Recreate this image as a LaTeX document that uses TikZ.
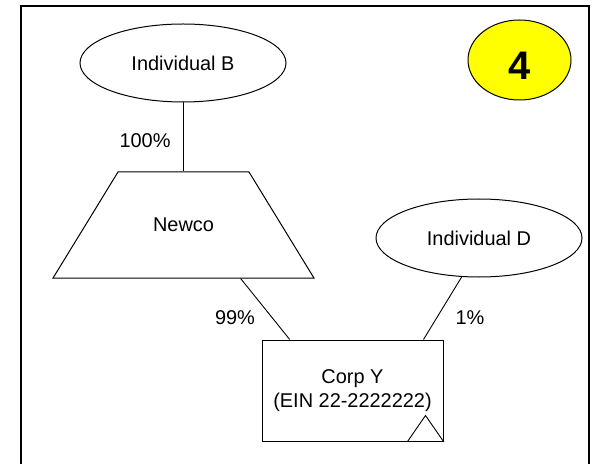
\documentclass[tikz,border=0pt]{standalone}
\usepackage{fontspec}
\setmainfont{Liberation Sans}
\usepackage{tikz}
\usetikzlibrary{calc,shapes.geometric}
\usepackage{xcolor}
\definecolor{badgeyellow}{RGB}{255,255,0}

\begin{document}
\begin{tikzpicture}[
  x=1bp,y=-1bp,
  font=\fontsize{20}{24}\selectfont,
  owner/.style={draw,ellipse,line width=1bp,
    minimum width=206bp,minimum height=78bp,inner sep=0pt},
  disregarded/.style={draw,trapezium,trapezium angle=58.5,line width=1bp,
    inner sep=0pt,text width=131bp,text height=60bp,text depth=46bp,align=center},
  corp/.style={draw,line width=1bp,minimum width=181bp,minimum height=101bp,
    inner sep=0pt,align=center},
  badge/.style={draw,ellipse,fill=badgeyellow,line width=1bp,
    minimum width=103bp,minimum height=80bp,inner sep=0pt},
  pct/.style={inner sep=0pt},
  link/.style={line width=0.9bp}
]
  \useasboundingbox (0,0) rectangle (593,464);
  \draw[line width=2bp] (21,470) -- (21,6) -- (589,6) -- (589,470);

  \node[owner] (indB) at (183,63) {Individual B};
  \node[disregarded] (newco) at (183.5,225) {Newco};
  \node[owner] (indD) at (479,238) {Individual D};
  \node[corp] (corpY) at (352.5,390.5) {Corp Y\\(EIN 22-2222222)};

  \node[badge] (step) at (519.5,60) {};
  \node[font=\fontsize{40}{42}\selectfont\bfseries] (stepnum) at (519.5,66) {4};

  % ownership lines
  \draw[link] (indB.south) -- (indB.south |- newco.north);
  \draw[link] ($(newco.south)!0.435!(newco.bottom right corner)$)
    -- ($(corpY.north west)!0.155!(corpY.north east)$);
  \draw[link] (indD.246) -- ($(corpY.north west)!0.89!(corpY.north east)$);

  \node[pct] (pctB) at (145,141) {100\%};
  \node[pct] (pctNewco) at (235,318) {99\%};
  \node[pct] (pctD) at (470,318) {1\%};

  % triangle in the corner of Corp Y
  \draw[link] (corpY.south east) -- ++(-36,0) -- ++(18,-26) -- cycle;
\end{tikzpicture}
\end{document}
